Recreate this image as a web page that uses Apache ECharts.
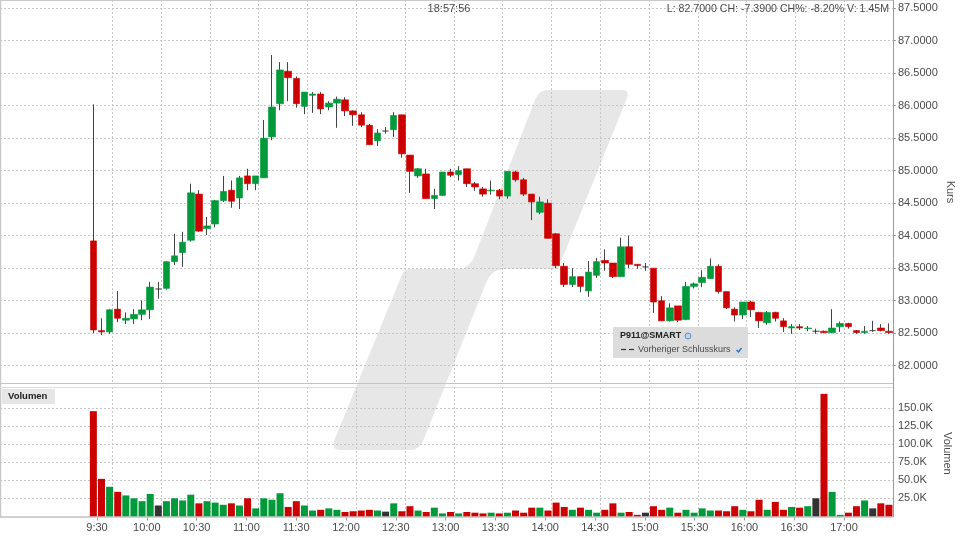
<!DOCTYPE html>
<html>
<head>
<meta charset="utf-8">
<style>
html, body { margin: 0; padding: 0; background: #fff; }
#chart { width: 960px; height: 540px; }
</style>
<script src="https://cdn.jsdelivr.net/npm/echarts@6/dist/echarts.min.js"></script>
</head>
<body>
<div id="chart"></div>
<script>
var opens = [83.92,82.54,82.52,82.87,82.70,82.72,82.79,82.86,83.18,83.19,83.60,83.74,83.93,84.64,84.11,84.18,84.54,84.70,84.58,84.92,84.80,84.89,85.52,86.03,86.53,86.42,85.99,86.16,86.18,85.98,86.04,86.09,85.92,85.86,85.70,85.46,85.61,85.63,85.86,85.24,84.92,84.95,84.57,84.62,84.98,84.94,85.03,84.80,84.72,84.69,84.70,84.61,84.98,84.86,84.64,84.36,84.50,84.03,83.53,83.25,83.37,83.15,83.39,83.62,83.58,83.37,83.83,83.56,83.52,83.50,83.00,82.69,82.92,82.71,83.22,83.28,83.34,83.53,83.14,82.87,82.78,82.98,82.82,82.66,82.82,82.69,82.58,82.60,82.57,82.53,82.53,82.51,82.60,82.65,82.54,82.51,82.54,82.58,82.53];
var closes = [82.55,82.52,82.86,82.73,82.73,82.79,82.86,83.21,83.18,83.60,83.69,83.90,84.66,84.07,84.15,84.54,84.68,84.53,84.89,84.80,84.92,85.50,85.98,86.55,86.43,86.03,86.21,86.18,85.95,86.04,86.10,85.92,85.86,85.70,85.40,85.58,85.61,85.85,85.26,84.99,85.03,84.57,84.62,84.98,84.93,85.00,84.80,84.75,84.64,84.70,84.61,84.99,84.86,84.64,84.52,84.52,83.96,83.54,83.25,83.37,83.22,83.44,83.60,83.58,83.37,83.83,83.56,83.54,83.52,82.98,82.69,82.89,82.70,83.22,83.26,83.36,83.53,83.14,82.89,82.78,82.98,82.86,82.69,82.82,82.73,82.60,82.60,82.58,82.58,82.53,82.51,82.58,82.65,82.60,82.51,82.53,82.54,82.54,82.51];
var lows = [82.50,82.47,82.49,82.67,82.64,82.64,82.70,82.72,83.03,83.17,83.55,83.52,83.91,84.06,84.01,84.13,84.52,84.43,84.41,84.70,84.70,84.89,85.47,85.93,86.07,85.97,85.87,85.89,85.87,85.93,85.66,85.84,85.69,85.67,85.40,85.38,85.57,85.52,85.20,84.66,84.89,84.57,84.41,84.61,84.90,84.85,84.75,84.69,84.60,84.63,84.56,84.57,84.83,84.61,84.24,84.33,83.96,83.50,83.21,83.21,83.13,83.06,83.35,83.46,83.35,83.37,83.50,83.49,83.46,82.81,82.69,82.68,82.67,82.70,83.19,83.21,83.34,83.11,82.87,82.68,82.72,82.75,82.58,82.63,82.68,82.52,82.49,82.55,82.53,82.49,82.50,82.50,82.52,82.57,82.49,82.49,82.52,82.53,82.49];
var highs = [86.02,82.73,82.87,83.15,82.82,82.87,83.00,83.29,83.29,83.61,84.03,84.06,84.80,84.70,84.29,84.55,84.92,84.85,84.92,85.03,84.92,85.78,86.78,86.67,86.67,86.45,86.21,86.21,86.21,86.07,86.14,86.13,85.93,85.90,85.72,85.64,85.67,85.90,85.86,85.24,85.04,85.03,84.72,84.98,85.03,85.07,85.03,84.83,84.75,84.85,84.72,84.99,85.00,84.89,84.64,84.60,84.56,84.04,83.58,83.50,83.37,83.61,83.66,83.79,83.58,83.97,84.00,83.56,83.58,83.50,83.07,82.96,82.92,83.29,83.28,83.47,83.65,83.56,83.14,82.90,82.98,83.00,82.83,82.84,82.83,82.73,82.64,82.64,82.61,82.57,82.54,82.87,82.68,82.66,82.55,82.61,82.69,82.64,82.65];
var volumes = [146,52,41,34,29,25,21,31,15,21,25,22,30,18,21,19,16,18,15,25,11,25,23,32,13,21,15,8,9,11,9,6,7,8,9,8,6.5,18,7,14,8,6,12,4,6,4,6,5,4,5,4,5,8,5,12,12,8,19,13,9,12,9,5,9,18,5,6,2,5,14,9,12,5,9,5,11,8,8,7,14,9,7,23,9,20,9,13,12,14,25,170,34,2,5,14,22,11,18,16];
var emptySlots = 11; // the session starts after a gap on the left

var GREEN = '#009a3b', RED = '#cc0000', DOJI = '#333333', WICK = '#444444';
var GRID_LINE = '#c6c6c6', TEXT = '#4a4a4a';
var FONT = '"Liberation Sans", Arial, sans-serif';

function pad(list) {
    var out = [];
    for (var i = 0; i < emptySlots; i++) out.push('-');
    return out.concat(list);
}

var slots = [];
for (var s = 0; s < emptySlots + opens.length; s++) slots.push(String(s));

var wickData = pad(opens.map(function (o, i) {
    return [o, closes[i], lows[i], highs[i]];
}));
var bodyData = pad(opens.map(function (o, i) {
    return [o, closes[i], Math.min(o, closes[i]), Math.max(o, closes[i])];
}));
var volumeData = pad(volumes.map(function (v, i) {
    var c = closes[i] > opens[i] ? GREEN : (closes[i] < opens[i] ? RED : DOJI);
    return { value: v, itemStyle: { color: c } };
}));

function timeLabel(m) {
    var min = m % 60;
    return Math.floor(m / 60) + ':' + (min < 10 ? '0' + min : min);
}

// Wasserzeichen: Ecken als kurze Kurven, [x, y] oder [ctrlX, ctrlY, x, y]
var logoPath = [[410,269],[461,269],[470,267,475,255],[535,100],[539,90,548,90],[622,90],[630,90,627,98],[558,269],[503,269],[491,270,486,283],[423,441],[419,450,410,450],[341,450],[331,450,334,441],[401,277],[404,269,410,269]];
function logoPoints() {
    var pts = [], last;
    logoPath.forEach(function (p) {
        if (p.length === 2) {
            pts.push(p);
            last = p;
        } else {
            for (var t = 0.2; t <= 1.001; t += 0.2) {
                var u = 1 - t;
                pts.push([u * u * last[0] + 2 * u * t * p[0] + t * t * p[2], u * u * last[1] + 2 * u * t * p[1] + t * t * p[3]]);
            }
            last = [p[2], p[3]];
        }
    });
    return pts;
}

var dashed = { show: true, lineStyle: { color: GRID_LINE, type: [2, 2], width: 1 } };

function frameLine(x1, y1, x2, y2, color, w) {
    return { type: 'line', z: 1, silent: true, shape: { x1: x1, y1: y1, x2: x2, y2: y2 }, style: { stroke: color, lineWidth: w } };
}
function label(text, x, y, opt) {
    return {
        type: 'text', z: 30, silent: true, x: x, y: y,
        style: {
            text: text, fill: opt.fill || TEXT, font: (opt.weight || 'normal') + ' ' + (opt.size || 11) + 'px ' + FONT,
            align: opt.align || 'left', verticalAlign: 'middle'
        }
    };
}

var chart = echarts.init(document.getElementById('chart'));
chart.setOption({
    animation: false,
    backgroundColor: '#fff',
    textStyle: { fontFamily: FONT },
    grid: [
        { left: 0, width: 893, top: 8.2, height: 357.5, outerBoundsMode: 'none' },
        { left: 0, width: 893, top: 390.3, height: 126, outerBoundsMode: 'none' },
        { left: 112.3, width: 732, top: 0, height: 383, outerBoundsMode: 'none' },
        { left: 112.3, width: 732, top: 387, height: 130, outerBoundsMode: 'none' },
        { left: 97, width: 747, top: 516.5, height: 1, outerBoundsMode: 'none' }
    ],
    xAxis: [
        { gridIndex: 0, type: 'category', data: slots, show: false },
        { gridIndex: 1, type: 'category', data: slots, show: false },
        {
            gridIndex: 2, type: 'value', min: 600, max: 1050, interval: 30,
            axisLine: { show: false }, axisTick: { show: false }, axisLabel: { show: false }, splitLine: dashed
        },
        {
            gridIndex: 3, type: 'value', min: 600, max: 1050, interval: 30,
            axisLine: { show: false }, axisTick: { show: false }, axisLabel: { show: false }, splitLine: dashed
        },
        {
            gridIndex: 4, type: 'value', min: 570, max: 1020, interval: 30, position: 'bottom',
            axisLine: { show: false }, splitLine: { show: false },
            axisTick: { show: true, length: 3, lineStyle: { color: '#999' } },
            axisLabel: {
                color: TEXT, fontSize: 11, margin: 5, showMinLabel: true, showMaxLabel: true,
                formatter: function (v) { return timeLabel(v); }
            }
        }
    ],
    yAxis: [
        {
            gridIndex: 0, type: 'value', position: 'right', min: 82, max: 87.5, interval: 0.5,
            name: 'Kurs', nameLocation: 'middle', nameGap: 52, nameRotate: -90, nameMoveOverlap: false,
            nameTextStyle: { color: TEXT, fontSize: 11, padding: [0, 0, 0, 10] },
            axisLine: { show: false },
            axisTick: { show: true, length: 3, lineStyle: { color: '#999' } },
            axisLabel: { color: TEXT, fontSize: 11, margin: 5, formatter: function (v) { return v.toFixed(4); } },
            splitLine: dashed
        },
        {
            gridIndex: 1, type: 'value', position: 'right', min: 0, max: 175, interval: 25,
            name: 'Volumen', nameLocation: 'middle', nameGap: 49, nameRotate: -90, nameMoveOverlap: false,
            nameTextStyle: { color: TEXT, fontSize: 11 },
            axisLine: { show: false },
            axisTick: { show: false },
            axisLabel: {
                color: TEXT, fontSize: 11, margin: 5,
                formatter: function (v) { return (v === 0 || v === 175) ? '' : v.toFixed(1) + 'K'; }
            },
            splitLine: { show: true, showMinLine: false, showMaxLine: false, lineStyle: { color: GRID_LINE, type: [2, 2], width: 1 } }
        },
        { gridIndex: 2, type: 'value', show: false, min: 0, max: 1 },
        { gridIndex: 3, type: 'value', show: false, min: 0, max: 1 },
        { gridIndex: 4, type: 'value', show: false, min: 0, max: 1 }
    ],
    series: [
        {
            type: 'candlestick', name: 'Docht', xAxisIndex: 0, yAxisIndex: 0, barWidth: 1, z: 3, silent: true,
            itemStyle: { color: WICK, color0: WICK, borderColor: WICK, borderColor0: WICK, borderColorDoji: WICK, borderWidth: 1 },
            data: wickData
        },
        {
            type: 'candlestick', name: 'P911@SMART', xAxisIndex: 0, yAxisIndex: 0, barWidth: 7, z: 4,
            itemStyle: { color: GREEN, color0: RED, borderColor: GREEN, borderColor0: RED, borderColorDoji: DOJI, borderWidth: 0.6 },
            data: bodyData
        },
        {
            type: 'bar', name: 'Volumen', xAxisIndex: 1, yAxisIndex: 1, barWidth: 7, z: 4,
            data: volumeData
        }
    ],
    graphic: {
        elements: [
            { type: 'polygon', z: -5, silent: true, shape: { points: logoPoints() }, style: { fill: '#e7e7e7' } },
            // Rahmen
            frameLine(0, 0.5, 893, 0.5, '#c8c8c8', 1),
            frameLine(0.5, 0, 0.5, 517, '#c8c8c8', 1.5),
            frameLine(0, 383.5, 893, 383.5, '#c4c4c4', 1),
            frameLine(0, 387.5, 893, 387.5, '#dcdcdc', 1),
            frameLine(0, 517, 893, 517, '#c0c0c0', 1.5),
            frameLine(893.5, 0, 893.5, 517, '#999999', 1),
            label('18:57:56', 449, 9, { align: 'center' }),
            label('L: 82.7000 CH: -7.3900 CH%: -8.20% V: 1.45M', 889, 9, { align: 'right', size: 10.6 }),
            // Volumen Titel
            { type: 'rect', z: 20, silent: true, shape: { x: 2, y: 389, width: 53, height: 15 }, style: { fill: '#e6e6e6' } },
            label('Volumen', 8, 396.5, { weight: 'bold', size: 9.5, fill: '#222' }),
            // Legende
            { type: 'rect', z: 20, silent: true, shape: { x: 613, y: 327, width: 135, height: 31 }, style: { fill: '#dcdcdc' } },
            label('P911@SMART', 620, 336, { weight: 'bold', size: 9, fill: '#222' }),
            { type: 'circle', z: 25, silent: true, shape: { cx: 688, cy: 336, r: 3 }, style: { fill: '#bcd3ea', stroke: '#5b8fc4', lineWidth: 1 } },
            { type: 'line', z: 25, silent: true, shape: { x1: 621, y1: 349.5, x2: 626, y2: 349.5 }, style: { stroke: '#333', lineWidth: 1.2 } },
            { type: 'line', z: 25, silent: true, shape: { x1: 629, y1: 349.5, x2: 634, y2: 349.5 }, style: { stroke: '#333', lineWidth: 1.2 } },
            label('Vorheriger Schlusskurs', 638, 350, { size: 9 }),
            { type: 'polyline', z: 25, silent: true, shape: { points: [[736.5, 350], [738.5, 352], [741.5, 348]] }, style: { stroke: '#2a6fc4', lineWidth: 1.4, fill: 'none' } }
        ]
    }
});
</script>
</body>
</html>
